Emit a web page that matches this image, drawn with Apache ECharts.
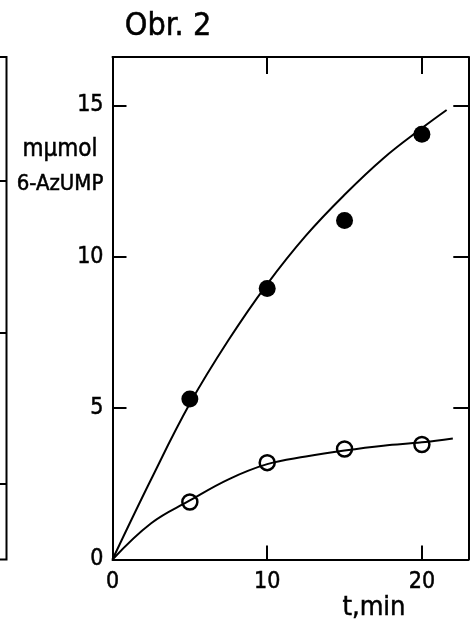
<!DOCTYPE html>
<html>
<head>
<meta charset="utf-8">
<script src="https://cdn.jsdelivr.net/npm/echarts@6/dist/echarts.min.js"></script>
<style>
  html, body { margin: 0; padding: 0; background: #fff; }
  #chart { width: 470px; height: 633px; }
</style>
</head>
<body>
<div id="chart"></div>
<script>
  // measured points, t in min
  const tMin = [5, 10, 15, 20];
  const filledY = [5.3, 8.95, 11.2, 14.05];
  const openY = [1.9, 3.2, 3.65, 3.8];

  // fitted curves as drawn in the figure
  const upperCurveX = [0, 2.5, 5, 7.5, 10, 12.5, 15, 17.5, 20, 21.6];
  const upperCurveY = [0, 2.65, 5.15, 7.25, 9.1, 10.7, 12.05, 13.25, 14.25, 14.85];
  const lowerCurveX = [0, 2.5, 5, 7.5, 10, 12.5, 15, 17.5, 20, 22];
  const lowerCurveY = [0, 1.2, 1.95, 2.65, 3.15, 3.4, 3.6, 3.76, 3.87, 4.0];

  const xTicks = [10, 20];
  const xLabels = [0, 10, 20];
  const yTicks = [5, 10, 15];
  const yLabels = [0, 5, 10, 15];
  const leftPanelTicks = [2.5, 7.5, 12.5];

  const font = 'DejaVu Sans Condensed, DejaVu Sans, sans-serif';
  const ink = '#000';
  const pairs = (xs, ys) => xs.map((x, i) => [x, ys[i]]);

  const chart = echarts.init(document.getElementById('chart'), null, { renderer: 'canvas' });

  const line = { onZero: false, lineStyle: { color: ink, width: 2 } };
  const tick = (len, values) => ({
    inside: true, length: len, customValues: values, lineStyle: { color: ink, width: 2 }
  });
  const label = (values, margin) => ({
    customValues: values, color: ink, fontSize: 23, fontFamily: font, margin,
    textBorderColor: ink, textBorderWidth: 0.5
  });
  const text = (x, y, str, size) => ({
    type: 'text', x, y,
    style: {
      text: str, fontSize: size, fontFamily: font, fill: ink,
      stroke: ink, lineWidth: 0.5, align: 'center', verticalAlign: 'middle'
    }
  });

  chart.setOption({
    animation: false,
    backgroundColor: '#fff',
    grid: [
      { left: 112.5, right: 1.7, top: 57, bottom: 73.5, outerBoundsMode: 'none' },
      { left: -60, right: 463.5, top: 57, bottom: 73.5, outerBoundsMode: 'none',
        show: true, borderColor: ink, borderWidth: 2 }
    ],
    xAxis: [
      {
        gridIndex: 0, type: 'value', min: 0, max: 23, position: 'bottom',
        axisLine: line, axisTick: tick(14, xTicks),
        axisLabel: label(xLabels, 11), splitLine: { show: false }
      },
      {
        gridIndex: 0, type: 'value', min: 0, max: 23, position: 'top',
        axisLine: line, axisTick: tick(17, xTicks),
        axisLabel: { show: false }, splitLine: { show: false }
      },
      {
        gridIndex: 1, type: 'value', min: 0, max: 10,
        axisLine: { show: false, onZero: false }, axisTick: { show: false },
        axisLabel: { show: false }, splitLine: { show: false }
      }
    ],
    yAxis: [
      {
        gridIndex: 0, type: 'value', min: 0, max: 16.6, position: 'left',
        axisLine: line, axisTick: tick(14, yTicks),
        axisLabel: label(yLabels, 9), splitLine: { show: false }
      },
      {
        gridIndex: 0, type: 'value', min: 0, max: 16.6, position: 'right',
        axisLine: line, axisTick: tick(15, yTicks),
        axisLabel: { show: false }, splitLine: { show: false }
      },
      {
        gridIndex: 1, type: 'value', min: 0, max: 16.6, position: 'right',
        axisLine: { show: false, onZero: false }, axisTick: tick(8, leftPanelTicks),
        axisLabel: { show: false }, splitLine: { show: false }
      }
    ],
    graphic: [
      text(168, 27, 'Obr. 2', 32),
      text(60, 150, 'mμmol', 24),
      text(60, 184, '6-AzUMP', 22),
      text(374, 608, 't,min', 27)
    ],
    series: [
      {
        type: 'line', xAxisIndex: 0, yAxisIndex: 0, smooth: 0.4,
        showSymbol: false, data: pairs(upperCurveX, upperCurveY),
        lineStyle: { color: ink, width: 2 }
      },
      {
        type: 'line', xAxisIndex: 0, yAxisIndex: 0, smooth: 0.4,
        showSymbol: false, data: pairs(lowerCurveX, lowerCurveY),
        lineStyle: { color: ink, width: 2 }
      },
      {
        type: 'scatter', xAxisIndex: 0, yAxisIndex: 0, symbol: 'circle', symbolSize: 17,
        data: pairs(tMin, filledY), itemStyle: { color: ink, opacity: 1 }
      },
      {
        type: 'scatter', xAxisIndex: 0, yAxisIndex: 0, symbol: 'circle', symbolSize: 15,
        data: pairs(tMin, openY),
        itemStyle: { color: '#fff', borderColor: ink, borderWidth: 2.5, opacity: 1 }
      }
    ]
  });
</script>
</body>
</html>
